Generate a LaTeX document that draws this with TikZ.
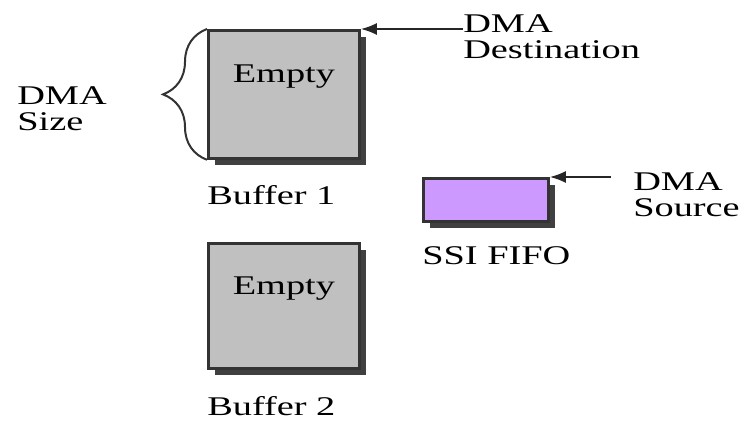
\documentclass[tikz,border=0pt]{standalone}
\usepackage{fontspec}
\setmainfont{Liberation Serif}
\newfontfamily\diagfont{Liberation Serif}
\usetikzlibrary{positioning,arrows.meta,decorations.pathreplacing}
\definecolor{bufgray}{HTML}{C0C0C0}
\definecolor{fifopurple}{HTML}{CC99FF}
\tikzset{
  txt/.style={inner sep=0pt,align=left,xscale=1.42,
    font=\diagfont\fontsize{27}{26}\selectfont},
  membox/.style={draw=black!80,line width=2.8pt,fill=bufgray,
    preaction={draw=none,fill=black!75,transform canvas={shift={(7pt,-7pt)}}}},
  ptr/.style={draw=black!85,line width=2pt,-{Latex[length=16pt,width=12pt]}}
}
\begin{document}
\begin{tikzpicture}[x=1pt,y=-1pt]
\useasboundingbox (0,0) rectangle (746,422);
% buffers
\node[membox,minimum width=151pt,minimum height=128pt,anchor=north west] (buf1) at (207,29) {};
\node[membox,minimum width=151pt,minimum height=125pt,anchor=north west] (buf2) at (207,242) {};
\node[txt,below=36pt of buf1.north] (empty1) {Empty};
\node[txt,below=35pt of buf2.north] (empty2) {Empty};
\node[txt,below right=25pt and 0pt of buf1.south west] (buf1lbl) {Buffer 1};
\node[txt,below right=26pt and 0pt of buf2.south west] (buf2lbl) {Buffer 2};
% fifo
\node[membox,fill=fifopurple,minimum width=125pt,minimum height=43pt,anchor=north west] (fifo) at (422,177) {};
\node[txt,below right=24pt and 0pt of fifo.south west] (fifolbl) {SSI FIFO};
% dma labels
\node[txt,anchor=north west] (dest) at (463,14) {DMA\\Destination};
\node[txt,anchor=north west] (src) at (633,172) {DMA\\Source};
\node[txt,anchor=north west] (size) at (17,86) {DMA\\Size};
\draw[ptr] (dest.north west |- buf1.north east) -- (buf1.north east);
\draw[ptr] ([xshift=-22pt]src.north west |- fifo.north east) -- (fifo.north east);
\draw[black!80,line width=2pt,decorate,decoration={brace,amplitude=44pt}]
  (buf1.south west) -- (buf1.north west);
\end{tikzpicture}
\end{document}
